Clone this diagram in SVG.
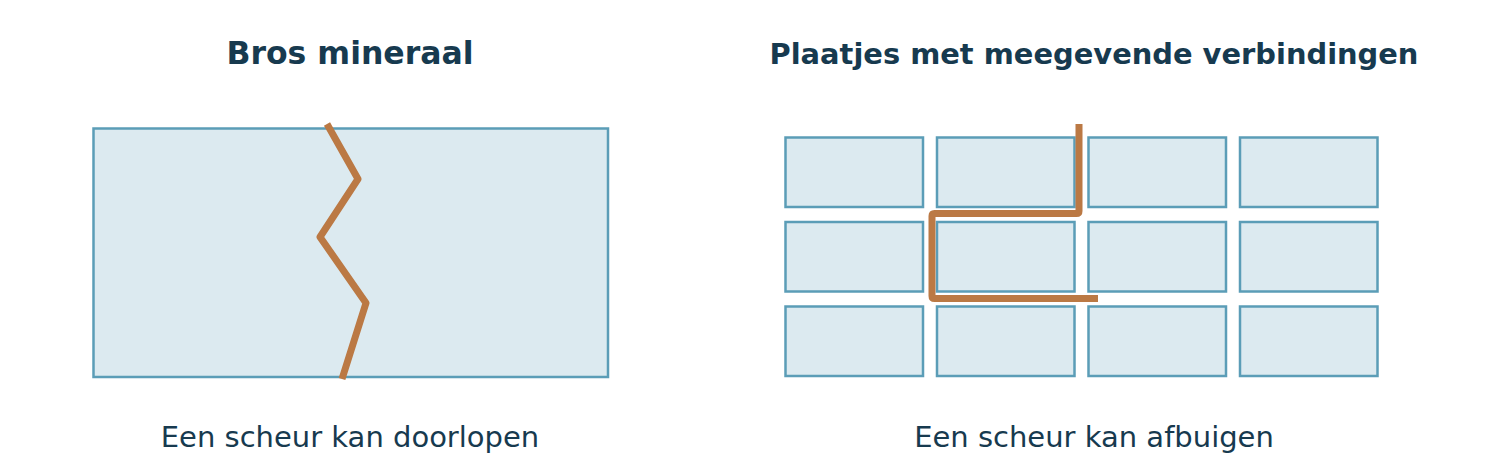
<svg xmlns="http://www.w3.org/2000/svg" width="1510" height="476" viewBox="0 0 1510 476">
<style>
.title{font-family:"DejaVu Sans",sans-serif;font-weight:bold;fill:#173a4f;text-anchor:middle}
.cap{font-family:"DejaVu Sans",sans-serif;fill:#173a4f;text-anchor:middle;font-size:29px}
.plate{fill:#dceaf0;stroke:#5b9db7;stroke-width:2.5}
.crack{fill:none;stroke:#bb7944;stroke-width:7;stroke-linejoin:round}
</style>
<rect width="1510" height="476" fill="#ffffff"/>
<g id="left">
<text class="title" x="350" y="64" font-size="31.5">Bros mineraal</text>
<rect id="mineral" class="plate" x="93.5" y="128.5" width="514.5" height="248.5"/>
<polyline id="crack-left" class="crack" points="327,124 358,179 320,237 366,303 342,379"/>
<text class="cap" x="350" y="447">Een scheur kan doorlopen</text>
</g>
<g id="right">
<text class="title" x="1094" y="64" font-size="28.9">Plaatjes met meegevende verbindingen</text>
<g id="plates">
<rect class="plate" x="785.5" y="137.5" width="137.5" height="69.5"/>
<rect class="plate" x="937" y="137.5" width="137.5" height="69.5"/>
<rect class="plate" x="1088.5" y="137.5" width="137.5" height="69.5"/>
<rect class="plate" x="1240" y="137.5" width="137.5" height="69.5"/>
<rect class="plate" x="785.5" y="222" width="137.5" height="69.5"/>
<rect class="plate" x="937" y="222" width="137.5" height="69.5"/>
<rect class="plate" x="1088.5" y="222" width="137.5" height="69.5"/>
<rect class="plate" x="1240" y="222" width="137.5" height="69.5"/>
<rect class="plate" x="785.5" y="306.5" width="137.5" height="69.5"/>
<rect class="plate" x="937" y="306.5" width="137.5" height="69.5"/>
<rect class="plate" x="1088.5" y="306.5" width="137.5" height="69.5"/>
<rect class="plate" x="1240" y="306.5" width="137.5" height="69.5"/>
</g>
<g id="connectors">
<path id="crack-right" class="crack" d="M1079,124 V211 Q1079,213.5 1076.5,213.5 H934.5 Q932,213.5 932,216 V296 Q932,298.5 934.5,298.5 H1098"/>
</g>
<text class="cap" x="1094" y="447">Een scheur kan afbuigen</text>
</g>
</svg>
